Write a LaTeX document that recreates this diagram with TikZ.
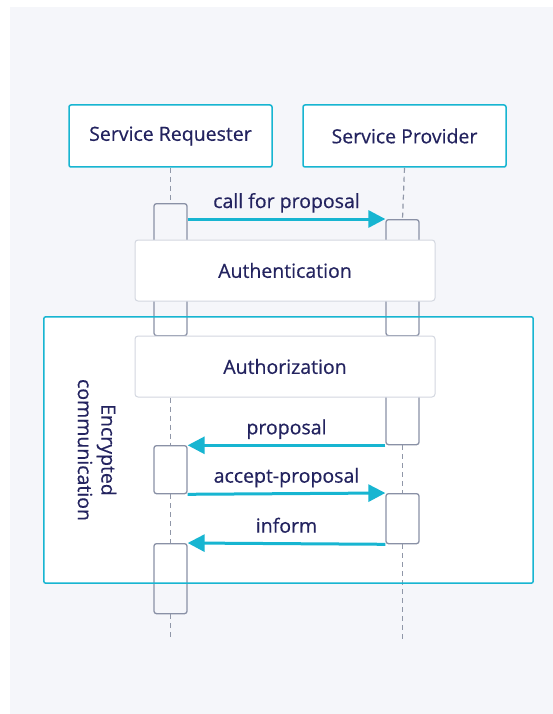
\documentclass[tikz,border=0pt]{standalone}
\usepackage{fontspec}
\setmainfont{Open Sans}
\newfontfamily\diagfont{Open Sans}[FakeBold=0.5]
\usetikzlibrary{arrows.meta}

\definecolor{pagebg}{HTML}{F5F6FA}
\definecolor{teal}{HTML}{17B5D1}
\definecolor{ink}{HTML}{23235F}
\definecolor{actline}{HTML}{8A91A6}
\definecolor{lifegray}{HTML}{9097A8}
\definecolor{noteline}{HTML}{D3D7E0}

\tikzset{
  txt/.style={text=ink, font=\diagfont\fontsize{19.5}{23.5}\selectfont},
  actor/.style={txt, draw=teal, line width=1.5pt, fill=white, rounded corners=2pt,
    inner sep=0pt, minimum width=203pt, minimum height=62pt},
  actbox/.style={draw=actline, line width=1.3pt, rounded corners=2.5pt,
    inner sep=0pt, minimum width=33pt, anchor=north},
  notebox/.style={txt, draw=noteline, line width=1pt, fill=white, rounded corners=3pt,
    inner sep=0pt, minimum width=300pt, minimum height=61pt},
  lifeline/.style={draw=lifegray, line width=1.2pt, dash pattern=on 5pt off 4pt},
  msg/.style={draw=teal, line width=3pt, -{Triangle[length=17pt,width=17pt]}},
  msglabel/.style={txt, anchor=base, inner sep=0pt},
}

\begin{document}
\begin{tikzpicture}[x=1pt, y=-1pt]
\useasboundingbox (0,0) rectangle (553,714);
\fill[white] (0,0) rectangle (553,714);
\fill[pagebg] (10,7) rectangle (553,714);

% participants
\node[actor] (req)  at (170.5,136) {Service Requester};
\node[actor] (prov) at (404.5,136) {Service Provider};

% encrypted region (white interior, border drawn last)
\node[fill=white, inner sep=0pt, minimum width=489pt, minimum height=266pt] (enc) at (288.5,450) {};
\node[txt, rotate=-90, align=center, inner sep=0pt] (enclbl) at (97,450) {Encrypted\\communication};

% activation bars
\node[actbox, minimum height=132pt] (la1) at (170.5,203) {};
\node[actbox, minimum height=116pt] (ra1) at (402.5,219) {};
\node[actbox, minimum height=74pt]  (ra2) at (402.5,370) {};
\node[actbox, minimum height=48pt]  (la2) at (170.5,445) {};
\node[actbox, minimum height=50pt]  (ra3) at (402.5,493) {};
\node[actbox, minimum height=70pt]  (la3) at (170.5,543) {};

% shared steps
\node[notebox] (authn) at (285,270.5) {Authentication};
\node[notebox] (authz) at (285,366.5) {Authorization};

% lifelines
\coordinate (lend) at (170.5,640);
\coordinate (rend) at (402.5,640);
\draw[lifeline] (req.south) -- (la1.north);
\draw[lifeline] (la1.south |- authz.south) -- (la2.north);
\draw[lifeline] (la2.south) -- (la3.north);
\draw[lifeline] (la3.south) -- (lend);
\draw[lifeline] (prov.south) -- (ra1.north);
\draw[lifeline] (ra2.south) -- (ra3.north);
\draw[lifeline] (ra3.south) -- (rend);

% messages
\draw[msg] (la1.east |- ra1.north west) -- (ra1.north west)
  node[msglabel, midway, yshift=11pt] {call for proposal};
\draw[msg] (ra2.south west) -- (la2.east |- ra2.south west)
  node[msglabel, midway, yshift=11pt] {proposal};
\draw[msg] (la2.south east) -- (ra3.north west)
  node[msglabel, midway, yshift=11pt] {accept-proposal};
\draw[msg] (ra3.south west) -- (la3.north east)
  node[msglabel, midway, yshift=11pt] {inform};

% encrypted region border on top
\draw[teal, line width=1.5pt, rounded corners=2pt] (enc.north west) rectangle (enc.south east);
\end{tikzpicture}
\end{document}
